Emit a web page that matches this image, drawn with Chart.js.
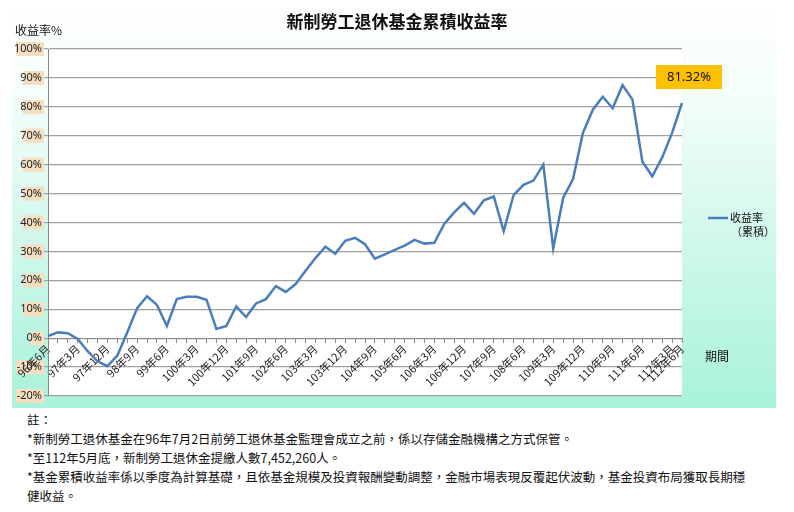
<!DOCTYPE html>
<html><head><meta charset="utf-8">
<script src="https://cdn.jsdelivr.net/npm/chart.js@4"></script>
<style>
body{margin:0;background:#fff;font-family:"Noto Sans CJK TC","Noto Sans",sans-serif;}
#wrap{position:absolute;left:0;top:0;width:794px;height:410px;}
#notes{position:absolute;left:27px;top:410px;font-size:12.5px;line-height:19px;color:#111;font-family:"Noto Sans CJK TC",sans-serif;}
</style></head><body>
<div id="wrap"><canvas id="c" width="794" height="410"></canvas></div>
<div id="notes">註：<br>*新制勞工退休基金在96年7月2日前勞工退休基金監理會成立之前，係以存儲金融機構之方式保管。<br>*至112年5月底，新制勞工退休金提繳人數7,452,260人。<br>*基金累積收益率係以季度為計算基礎，且依基金規模及投資報酬變動調整，金融市場表現反覆起伏波動，基金投資布局獲取長期穩<br>健收益。</div>
<script>
const categories = [];
(function(){ let y=96, m=6; for(let i=0;i<65;i++){ categories.push(y+'年'+m+'月'); m+=3; if(m>12){m=3;y++;} } })();
const values = [0.7,2,1.7,-0.3,-4.5,-8,-9.7,-6,2,10.4,14.5,11.5,4.2,13.5,14.3,14.3,13.3,3.2,4.2,11,7.3,12,13.5,18,16,18.7,23.3,27.7,31.6,29.2,33.7,34.7,32.5,27.5,29,30.5,32,34,32.7,33,39.5,43.5,46.8,43,47.7,49,37,49.5,53,54.5,60,31,48.5,55,71,79,83.5,79.5,87.5,82.5,61,56,62.5,71,81.32];
const yTicks = [-20,-10,0,10,20,30,40,50,60,70,80,90,100];
const seriesName = ['收益率','（累積）'];
const lastLabel = '81.32%';

const deco = {
  id:'deco',
  beforeDraw(ch){
    const c=ch.ctx, a=ch.chartArea;
    const g=c.createLinearGradient(0,0,0,408);
    g.addColorStop(0,'#ffffff'); g.addColorStop(0.25,'#f2fdf9'); g.addColorStop(1,'#a8f2dc');
    c.fillStyle=g; c.fillRect(12,2,764,406);
    c.fillStyle='#ffffff'; c.fillRect(a.left,a.top,a.right-a.left,a.bottom-a.top);
    const ys=ch.scales.y;
    c.fillStyle='#f5dfc0';
    yTicks.forEach(v=>{const py=ys.getPixelForValue(v); const w=(String(v).length+1)*7; c.fillRect(44-w,py-7,w,14);});
  },
  afterDraw(ch){
    const c=ch.ctx;
    c.save();
    c.fillStyle='#111'; c.textAlign='center'; c.textBaseline='middle';
    c.font='bold 17px "Noto Sans CJK TC"';
    c.fillText('新制勞工退休基金累積收益率',397,22);
    c.textAlign='left'; c.font='12px "Noto Sans CJK TC"';
    c.fillText('收益率%',15,30);
    c.fillText('期間',705,356);
    c.strokeStyle='#4a7ebb'; c.lineWidth=2.5;
    c.beginPath(); c.moveTo(708,218); c.lineTo(728,218); c.stroke();
    c.font='11px "Noto Sans CJK TC"';
    c.fillText(seriesName[0],730,218); c.fillText(seriesName[1],731,232);
    c.fillStyle='#ffc000'; c.fillRect(656,65,66,24);
    c.fillStyle='#111'; c.textAlign='center'; c.font='13px "Noto Sans","Noto Sans CJK TC"';
    c.fillText(lastLabel,689,77);
    c.restore();
  }
};

new Chart(document.getElementById('c'),{
  type:'line',
  data:{labels:categories,datasets:[{data:values,borderColor:'#4a7ebb',borderWidth:2.5,pointRadius:0,tension:0,fill:false}]},
  options:{
    responsive:false,animation:false,
    layout:{padding:{left:0,right:112,top:49,bottom:14}},
    plugins:{legend:{display:false},tooltip:{enabled:false}},
    scales:{
      x:{position:{y:0},offset:false,
        grid:{drawOnChartArea:false,drawTicks:true,tickLength:4,color:'#888'},
        border:{color:'#888'},
        ticks:{autoSkip:false,maxRotation:45,minRotation:45,padding:0,color:'#222',font:{size:11,family:'"Noto Sans CJK TC"'},
          callback:(v,i)=> (i%3===0||i===categories.length-1)? categories[i] : ''}},
      y:{min:-20,max:100,afterFit:s=>{s.width=48;},
        afterBuildTicks:s=>{s.ticks=yTicks.map(v=>({value:v}));},
        grid:{color:'#a0a0a0',lineWidth:1.2,drawTicks:true,tickLength:4},
        border:{color:'#888'},
        ticks:{color:'#222',padding:2,font:{size:11,family:'"Noto Sans"'},callback:v=>v+'%'}}
    }
  },
  plugins:[deco]
});
</script></body></html>
